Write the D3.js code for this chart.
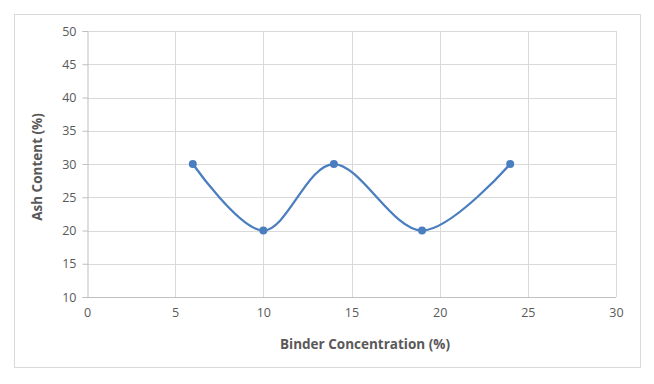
<!DOCTYPE html>
<html>
<head>
<meta charset="utf-8">
<script src="https://cdn.jsdelivr.net/npm/d3@7"></script>
<style>
  body { margin: 0; background: #fff; }
  svg text { font-family: "Open Sans", "Liberation Sans", sans-serif; }
</style>
</head>
<body>
<svg id="chart" width="654" height="384"></svg>
<script>
var binder = [6, 10, 14, 19, 24];
var ash = [30, 20, 30, 20, 30];
var xTicks = [0, 5, 10, 15, 20, 25, 30];
var yTicks = [10, 15, 20, 25, 30, 35, 40, 45, 50];

var svg = d3.select("#chart");

// outer chart border
svg.append("rect")
  .attr("x", 14.5).attr("y", 14.5)
  .attr("width", 626).attr("height", 353)
  .attr("fill", "#fff")
  .attr("stroke", "#d9d9d9");

var x = d3.scaleLinear().domain([0, 30]).range([87, 616]);
var y = d3.scaleLinear().domain([10, 50]).range([297, 31]);

// gridlines
svg.append("g").selectAll("line")
  .data(yTicks.slice(1))
  .enter().append("line")
    .attr("x1", x(0)).attr("x2", x(30))
    .attr("y1", function(d) { return Math.round(y(d)) + 0.5; })
    .attr("y2", function(d) { return Math.round(y(d)) + 0.5; })
    .attr("stroke", "#d9d9d9");

svg.append("g").selectAll("line")
  .data(xTicks.slice(1))
  .enter().append("line")
    .attr("x1", function(d) { return Math.round(x(d)) + 0.5; })
    .attr("x2", function(d) { return Math.round(x(d)) + 0.5; })
    .attr("y1", y(10)).attr("y2", y(50))
    .attr("stroke", "#d9d9d9");

// axes
var xAxis = svg.append("g")
  .attr("transform", "translate(0," + (Math.round(y(10)) + 0.5) + ")")
  .call(d3.axisBottom(x).tickValues(xTicks).tickSize(0).tickPadding(11));

var yAxis = svg.append("g")
  .attr("transform", "translate(" + (Math.round(x(0)) + 0.5) + ",0)")
  .call(d3.axisLeft(y).tickValues(yTicks).tickSize(5).tickPadding(6));

[xAxis, yAxis].forEach(function(a) {
  a.select(".domain").attr("stroke", "#bfbfbf");
  a.selectAll(".tick line").attr("stroke", "#bfbfbf");
  a.selectAll("text").attr("fill", "#595959").attr("font-size", 12.5);
});
xAxis.select(".domain").attr("d", "M" + x(0) + ",0H" + x(30));

// series
var pts = binder.map(function(d, i) { return [d, ash[i]]; });

svg.append("path")
  .datum(pts)
  .attr("fill", "none")
  .attr("stroke", "#4a7ebf")
  .attr("stroke-width", 2.25)
  .attr("d", d3.line()
    .x(function(d) { return x(d[0]); })
    .y(function(d) { return y(d[1]); })
    .curve(d3.curveCatmullRom.alpha(0)));

svg.append("g").selectAll("circle")
  .data(pts)
  .enter().append("circle")
    .attr("cx", function(d) { return x(d[0]); })
    .attr("cy", function(d) { return y(d[1]); })
    .attr("r", 4)
    .attr("fill", "#4a7ebf");

// axis titles
svg.append("text")
  .attr("x", 365)
  .attr("y", 349)
  .attr("text-anchor", "middle")
  .attr("font-size", 13.5)
  .attr("font-weight", "bold")
  .attr("fill", "#595959")
  .text("Binder Concentration (%)");

svg.append("text")
  .attr("transform", "translate(42,167) rotate(-90)")
  .attr("text-anchor", "middle")
  .attr("font-size", 13.5)
  .attr("font-weight", "bold")
  .attr("fill", "#595959")
  .text("Ash Content (%)");
</script>
</body>
</html>
